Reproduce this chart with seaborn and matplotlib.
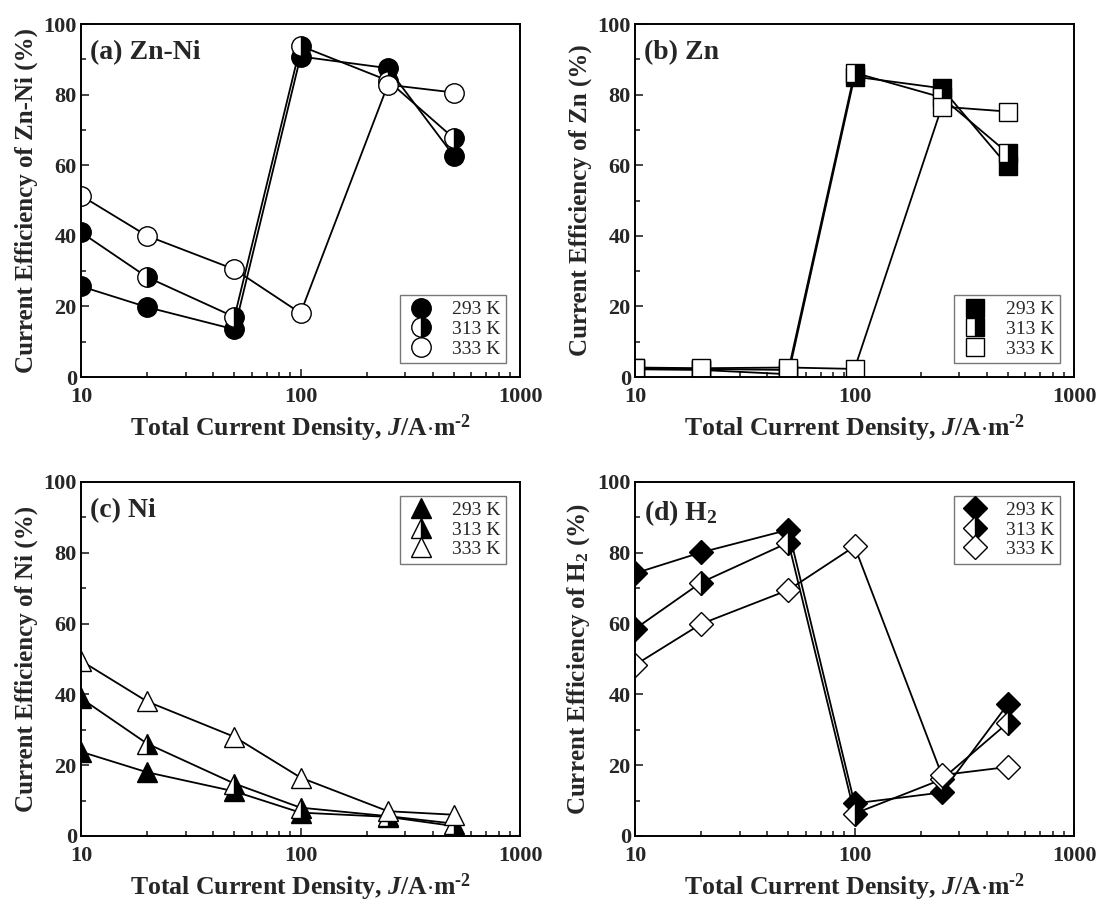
import matplotlib
matplotlib.use("Agg")
import matplotlib.pyplot as plt
import seaborn as sns
import numpy as np
from matplotlib.lines import Line2D
from matplotlib.ticker import FixedLocator, FixedFormatter, NullFormatter, LogLocator, MultipleLocator

sns.set_theme(style="ticks")
plt.rcParams['font.family'] = ['Liberation Serif', 'DejaVu Serif']
plt.rcParams['mathtext.fontset'] = 'custom'
plt.rcParams['mathtext.rm'] = 'Liberation Serif:bold'
plt.rcParams['mathtext.it'] = 'Liberation Serif:italic:bold'
plt.rcParams['mathtext.bf'] = 'Liberation Serif:bold'

# ---- data ----
current_density = [10, 20, 50, 100, 250, 500]
temperatures = ["293 K", "313 K", "333 K"]

zn_ni_293 = [25.7, 19.8, 13.5, 90.8, 87.5, 62.6]
zn_ni_313 = [41.0, 28.3, 17.0, 93.8, 84.0, 67.6]
zn_ni_333 = [51.4, 40.0, 30.5, 18.1, 82.8, 80.6]

zn_293 = [2.2, 2.0, 0.8, 85.1, 81.8, 59.7]
zn_313 = [2.5, 2.3, 2.0, 86.2, 79.2, 63.4]
zn_333 = [2.7, 2.5, 2.7, 2.3, 76.6, 75.2]

ni_293 = [23.8, 18.0, 12.6, 6.6, 5.4, 2.8]
ni_313 = [38.9, 26.1, 14.8, 8.0, 5.6, 3.5]
ni_333 = [49.5, 38.0, 28.0, 16.5, 7.0, 6.0]

h2_293 = [74.2, 80.1, 86.5, 9.2, 12.3, 37.3]
h2_313 = [58.5, 71.6, 82.9, 6.3, 16.0, 32.0]
h2_333 = [48.3, 59.9, 69.5, 81.8, 17.2, 19.5]

panels = [
    dict(title="(a) Zn-Ni", ylabel="Current Efficiency of Zn-Ni (%)", marker="o",
         series=[zn_ni_293, zn_ni_313, zn_ni_333], loc="lower right"),
    dict(title="(b) Zn", ylabel="Current Efficiency of Zn (%)", marker="s",
         series=[zn_293, zn_313, zn_333], loc="lower right"),
    dict(title="(c) Ni", ylabel="Current Efficiency of Ni (%)", marker="^",
         series=[ni_293, ni_313, ni_333], loc="upper right"),
    dict(title="(d) H$_\\mathregular{2}$", ylabel="Current Efficiency of H$_\\mathregular{2}$ (%)", marker="D",
         series=[h2_293, h2_313, h2_333], loc="upper right"),
]

styles = [
    dict(markerfacecolor="black", fillstyle="full"),
    dict(markerfacecolor="black", fillstyle="right", markerfacecoloralt="white"),
    dict(markerfacecolor="white", fillstyle="full"),
]

fig = plt.figure(figsize=(10.99, 9.07), dpi=100)
positions = [
    [0.0737, 0.5843, 0.3995, 0.3892],
    [0.5778, 0.5843, 0.3995, 0.3892],
    [0.0737, 0.0783, 0.3995, 0.3903],
    [0.5778, 0.0783, 0.3995, 0.3903],
]

msizes = {"o": 14, "s": 13, "^": 14, "D": 12.5}

for p, pos in zip(panels, positions):
    ax = fig.add_axes(pos)
    ms = msizes[p["marker"]]
    handles = []
    for vals, st, lab in zip(p["series"], styles, temperatures):
        sns.lineplot(x=current_density, y=vals, ax=ax, color="black", linewidth=1.3,
                     marker=p["marker"], markersize=ms, markeredgecolor="black",
                     markeredgewidth=1.0, legend=False, **st)
        handles.append(Line2D([], [], linestyle="none", marker=p["marker"], markersize=ms,
                              markeredgecolor="black", markeredgewidth=1.0, color="black",
                              label=lab, **st))
    ax.set_xscale("log")
    ax.set_xlim(10, 1000)
    ax.set_ylim(0, 100)
    ax.xaxis.set_major_locator(FixedLocator([10, 100, 1000]))
    ax.xaxis.set_major_formatter(FixedFormatter(["10", "100", "1000"]))
    ax.xaxis.set_minor_locator(LogLocator(base=10, subs=np.arange(2, 10)))
    ax.xaxis.set_minor_formatter(NullFormatter())
    ax.yaxis.set_major_locator(MultipleLocator(20))
    ax.yaxis.set_minor_locator(MultipleLocator(10))
    ax.tick_params(which="both", direction="in", top=False, right=False, width=1.2)
    ax.tick_params(which="major", length=6, labelsize=16)
    ax.tick_params(axis="x", which="major", pad=7)
    ax.tick_params(axis="y", which="major", pad=3)
    ax.tick_params(which="minor", length=3.5)
    for lbl in ax.get_xticklabels() + ax.get_yticklabels():
        lbl.set_fontweight("bold")
    for s in ax.spines.values():
        s.set_linewidth(1.4)
        s.set_color("black")
    ax.set_xlabel("Total Current Density, $\\mathit{J}$/A$\\cdot$m$^{\\text{-2}}$",
                  fontsize=18.5, fontweight="bold", labelpad=4)
    ax.set_ylabel(p["ylabel"], fontsize=18, fontweight="bold", labelpad=4)
    ax.text(0.02, 0.955, p["title"], transform=ax.transAxes, fontsize=20,
            fontweight="bold", ha="left", va="top")
    leg = ax.legend(handles=handles, loc=p["loc"], fontsize=14, frameon=True,
                    fancybox=False, borderaxespad=0.7, handletextpad=0.8,
                    labelspacing=0.1, borderpad=0.3, handlelength=1.6)
    leg.get_frame().set_edgecolor("#555555")
    leg.get_frame().set_linewidth(1.0)

fig.savefig("out.png", dpi=100)
